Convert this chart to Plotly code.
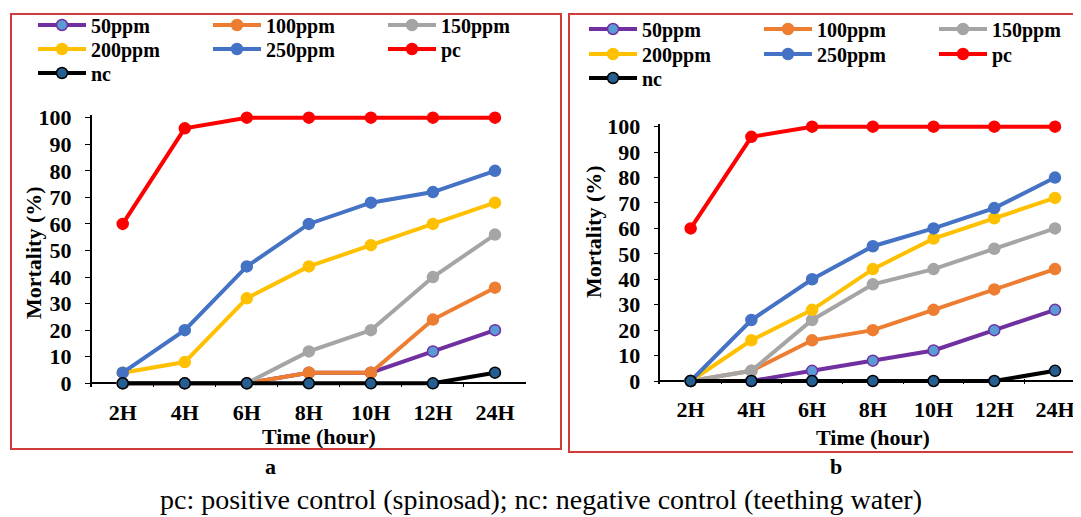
import plotly.graph_objects as go

W, H = 1081, 517
OFF = 8  # page body margin; reference pixel -> figure pixel

times = ["2H", "4H", "6H", "8H", "10H", "12H", "24H"]
series_names = ["50ppm", "100ppm", "150ppm", "200ppm", "250ppm", "pc", "nc"]

# Panel a
a_50 = [0, 0, 0, 4, 4, 12, 20]
a_100 = [0, 0, 0, 4, 4, 24, 36]
a_150 = [0, 0, 0, 12, 20, 40, 56]
a_200 = [4, 8, 32, 44, 52, 60, 68]
a_250 = [4, 20, 44, 60, 68, 72, 80]
a_pc = [60, 96, 100, 100, 100, 100, 100]
a_nc = [0, 0, 0, 0, 0, 0, 4]

# Panel b
b_50 = [0, 0, 4, 8, 12, 20, 28]
b_100 = [0, 4, 16, 20, 28, 36, 44]
b_150 = [0, 4, 24, 38, 44, 52, 60]
b_200 = [0, 16, 28, 44, 56, 64, 72]
b_250 = [0, 24, 40, 53, 60, 68, 80]
b_pc = [60, 96, 100, 100, 100, 100, 100]
b_nc = [0, 0, 0, 0, 0, 0, 4]

y_ticks = list(range(0, 101, 10))

line_colors = ["#7030A0", "#ED7D31", "#A5A5A5", "#FFC000", "#4472C4", "#FF0000", "#000000"]
marker_fill = ["#5B9BD5", "#ED7D31", "#A5A5A5", "#FFC000", "#4472C4", "#FF0000", "#255E91"]
marker_edge = ["#7030A0", "#ED7D31", "#A5A5A5", "#FFC000", "#4472C4", "#FF0000", "#000000"]

FONT = "Liberation Serif, Times New Roman, DejaVu Serif, serif"
BORDER = "#D23B3B"


def fx(px):
    return (px - OFF) / W


def fy(py):
    return 1 - (py - OFF) / H


fig = go.Figure()


def legend_row(i):
    return 0 if i < 3 else (1 if i < 6 else 2)


panels = [
    ([a_50, a_100, a_150, a_200, a_250, a_pc, a_nc], "x", "y", 0),
    ([b_50, b_100, b_150, b_200, b_250, b_pc, b_nc], "x2", "y2", 3),
]

for vals, xa, ya, loff in panels:
    for i, (name, v) in enumerate(zip(series_names, vals)):
        lg_idx = loff + legend_row(i) + 1
        fig.add_trace(go.Scatter(
            x=times, y=v, name=name, mode="lines+markers",
            xaxis=xa, yaxis=ya,
            line=dict(color=line_colors[i], width=4),
            marker=dict(size=11, color=marker_fill[i],
                        line=dict(color=marker_edge[i], width=1.5)),
            cliponaxis=False,
            legend="legend" if lg_idx == 1 else f"legend{lg_idx}",
        ))

tickfont = dict(family=FONT, size=22, color="black", weight="bold")


def xaxis_cfg(domain, rng, anchor):
    return dict(domain=domain, type="category", range=rng, anchor=anchor,
                showline=False, showgrid=False, zeroline=False,
                ticks="inside", tickson="boundaries", ticklen=5,
                tickcolor="black", tickwidth=1.2,
                tickfont=tickfont, ticklabelstandoff=10, fixedrange=True)


def yaxis_cfg(domain, anchor):
    return dict(domain=domain, range=[-1.2, 101.2], anchor=anchor,
                tickvals=y_ticks, showline=True, linecolor="black", linewidth=1.5,
                showgrid=False, zeroline=True, zerolinecolor="black", zerolinewidth=1.5,
                ticks="outside", ticklen=5, tickcolor="black", tickwidth=1.2,
                tickfont=tickfont, ticklabelstandoff=9, fixedrange=True)


# right panel axis is cut by the window edge (ref pixel 1081)
right_edge = fx(1081)

layout = dict(
    width=W, height=H,
    margin=dict(l=0, r=0, t=0, b=0, autoexpand=False),
    paper_bgcolor="white", plot_bgcolor="white",
    showlegend=True,
    xaxis=xaxis_cfg([fx(91.7), fx(526)], [-0.5, 6.5], "y"),
    yaxis=yaxis_cfg([fy(386.5), fy(114.5)], "x"),
    xaxis2=xaxis_cfg([fx(660.3), right_edge], [-0.5, 6.428], "y2"),
    yaxis2=yaxis_cfg([fy(384.05), fy(123.65)], "x2"),
)

legfont = dict(family=FONT, size=20, color="black", weight="bold")
# (x of symbol start, y centre) per legend row, reference pixels
leg_pos = [(37, 25), (37, 49), (37, 73), (588, 29), (588, 54), (588, 78)]
for k, (lx, ly) in enumerate(leg_pos):
    key = "legend" if k == 0 else f"legend{k + 1}"
    layout[key] = dict(orientation="h", xref="container", yref="container",
                       x=fx(lx - 4), y=fy(ly),
                       xanchor="left", yanchor="middle",
                       bgcolor="rgba(0,0,0,0)", font=legfont,
                       entrywidth=112, entrywidthmode="pixels",
                       itemwidth=48, tracegroupgap=0,
                       itemclick=False, itemdoubleclick=False)

fig.update_layout(**layout)


def ann(text, px, py, size, bold=True, angle=0):
    fig.add_annotation(
        text=text, xref="paper", yref="paper", x=fx(px), y=fy(py),
        xanchor="center", yanchor="middle", showarrow=False,
        textangle=angle,
        font=dict(family=FONT, size=size, color="black",
                  weight="bold" if bold else "normal"))


ann("Mortality (%)", 33, 253, 22, angle=-90)
ann("Time (hour)", 319, 436, 22)
ann("Mortality (%)", 593, 232, 22, angle=-90)
ann("Time (hour)", 873, 437, 22)
ann("a", 270, 466, 22)
ann("b", 836, 466, 22)
ann("pc: positive control (spinosad); nc: negative control (teething water)",
    541, 499, 28, bold=False)

# panel frames
fig.add_shape(type="rect", xref="paper", yref="paper",
              x0=fx(11), x1=fx(561), y0=fy(449), y1=fy(14),
              line=dict(color=BORDER, width=2), fillcolor="rgba(0,0,0,0)")
fig.add_shape(type="rect", xref="paper", yref="paper",
              x0=fx(569), x1=fx(1095), y0=fy(452), y1=fy(14),
              line=dict(color=BORDER, width=2), fillcolor="rgba(0,0,0,0)")

fig.write_html("out.html")
